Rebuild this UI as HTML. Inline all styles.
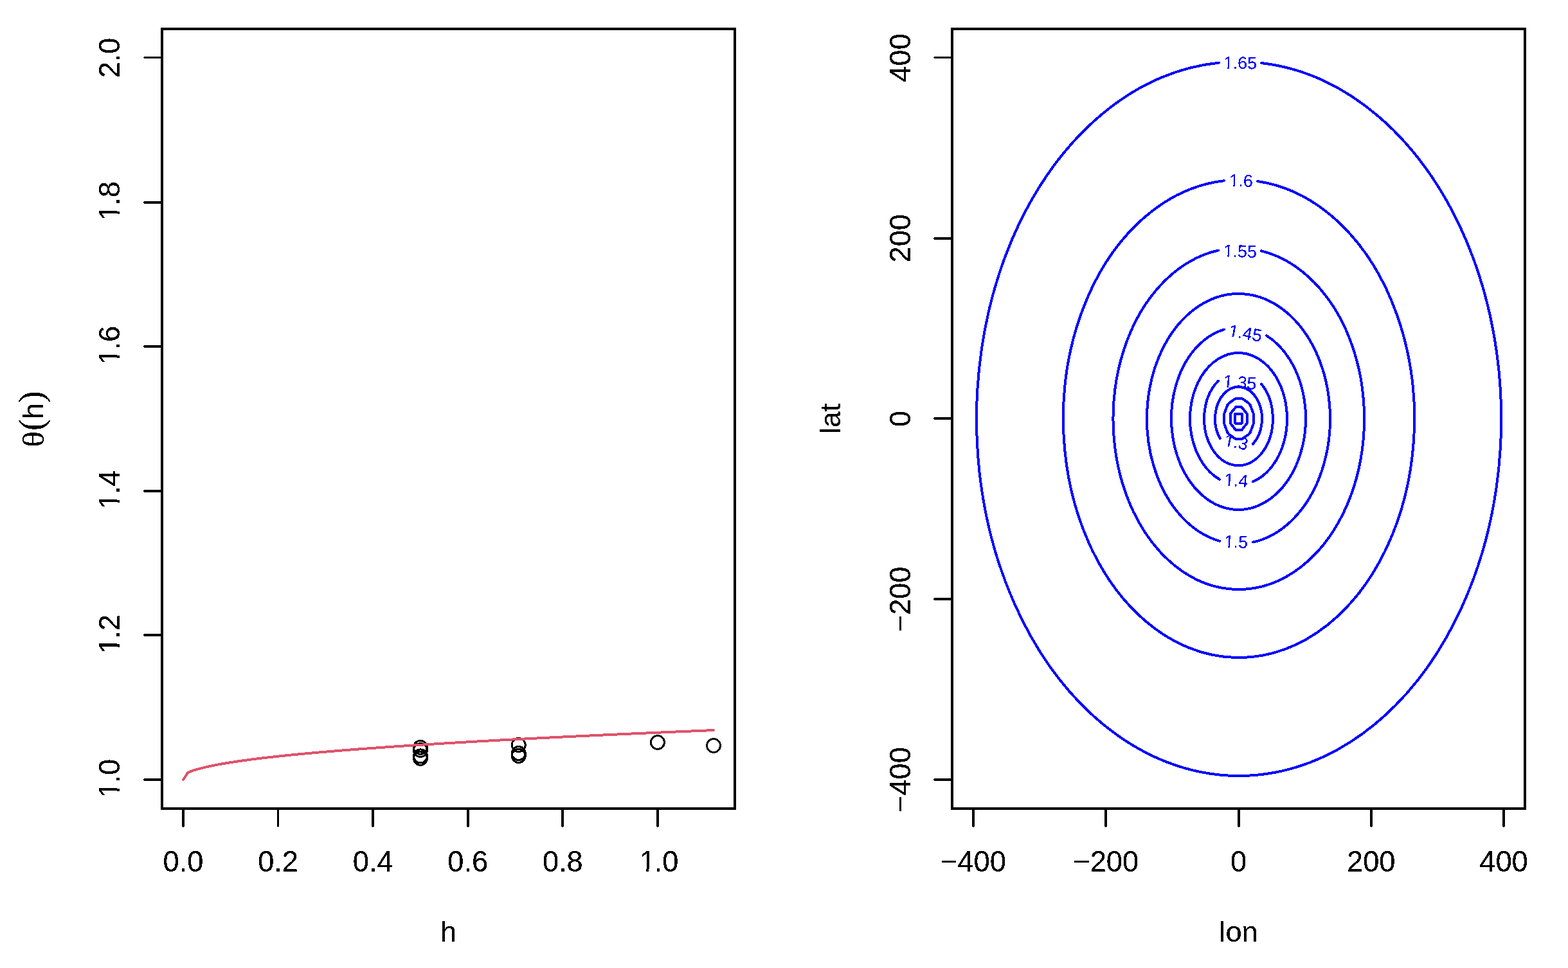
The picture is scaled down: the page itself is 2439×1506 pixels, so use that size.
<!DOCTYPE html>
<html lang="en">
<head>
<meta charset="utf-8">
<title>Extremal coefficient plot</title>
<style>
html,body{margin:0;padding:0;background:#fff;}
body{width:2439px;height:1506px;overflow:hidden;}
svg{display:block;font-family:'Liberation Sans', sans-serif;}
</style>
</head>
<body>
<svg xmlns="http://www.w3.org/2000/svg" width="2439" height="1506" viewBox="0 0 2439 1506">
<defs>
<filter id="crisp" x="0" y="0" width="2439" height="1506" filterUnits="userSpaceOnUse" color-interpolation-filters="sRGB">
<feComponentTransfer><feFuncA type="discrete" tableValues="0 0 1 1 1"/></feComponentTransfer>
</filter>
<clipPath id="k1"><path clip-rule="evenodd" d="M-400 -400h800v800h-800zM-27.22 -3.78H-18.06V1H-27.22zM-14.07 -3.78H-5.37V1H-14.07z"/></clipPath>
<clipPath id="k3"><path clip-rule="evenodd" d="M-400 -400h800v800h-800zM-16.91 -2.42H-11.44V1H-16.91zM-9.05 -2.42H-3.86V1H-9.05z"/></clipPath>
<clipPath id="k4"><path clip-rule="evenodd" d="M-400 -400h800v800h-800zM-24.42 -2.42H-18.95V1H-24.42zM-16.56 -2.42H-11.36V1H-16.56z"/></clipPath>
</defs>
<rect width="2439" height="1506" fill="#fff"/>
<g filter="url(#crisp)">
<g id="axes" fill="#000" shape-rendering="crispEdges">
<rect x="252" y="45" width="891" height="1213" fill="none" stroke="#000" stroke-width="4" shape-rendering="crispEdges"/>
<path d="M283 1260h4v26h-1v1h-2v-1h-1z"/>
<text transform="translate(285,1356) scale(1,1.03)" font-size="45.2" text-anchor="middle">0.0</text>
<path d="M431 1260h3v26h-1v1h-1v-1h-1z"/>
<text transform="translate(432.58,1356) scale(1,1.03)" font-size="45.2" text-anchor="middle">0.2</text>
<path d="M578 1260h4v26h-1v1h-2v-1h-1z"/>
<text transform="translate(580.16,1356) scale(1,1.03)" font-size="45.2" text-anchor="middle">0.4</text>
<path d="M726 1260h4v26h-1v1h-2v-1h-1z"/>
<text transform="translate(727.74,1356) scale(1,1.03)" font-size="45.2" text-anchor="middle">0.6</text>
<path d="M873 1260h4v26h-1v1h-2v-1h-1z"/>
<text transform="translate(875.32,1356) scale(1,1.03)" font-size="45.2" text-anchor="middle">0.8</text>
<path d="M1021 1260h4v26h-1v1h-2v-1h-1z"/>
<text transform="translate(1022.9,1356) scale(1,1.03)" font-size="45.2" text-anchor="middle" clip-path="url(#k1)"><tspan dx="1.99">1</tspan><tspan dx="-1.99">.0</tspan></text>
<path d="M250 1211v4h-26v-1h-1v-2h1v-1z"/>
<text transform="translate(186,1213.07) rotate(-90) scale(1,1.03)" font-size="45.2" text-anchor="middle" clip-path="url(#k1)"><tspan dx="1.99">1</tspan><tspan dx="-1.99">.0</tspan></text>
<path d="M250 986v4h-26v-1h-1v-2h1v-1z"/>
<text transform="translate(186,988.44) rotate(-90) scale(1,1.03)" font-size="45.2" text-anchor="middle" clip-path="url(#k1)"><tspan dx="1.99">1</tspan><tspan dx="-1.99">.2</tspan></text>
<path d="M250 762v4h-26v-1h-1v-2h1v-1z"/>
<text transform="translate(186,763.81) rotate(-90) scale(1,1.03)" font-size="45.2" text-anchor="middle" clip-path="url(#k1)"><tspan dx="1.99">1</tspan><tspan dx="-1.99">.4</tspan></text>
<path d="M250 537v4h-26v-1h-1v-2h1v-1z"/>
<text transform="translate(186,539.19) rotate(-90) scale(1,1.03)" font-size="45.2" text-anchor="middle" clip-path="url(#k1)"><tspan dx="1.99">1</tspan><tspan dx="-1.99">.6</tspan></text>
<path d="M250 313v4h-26v-1h-1v-2h1v-1z"/>
<text transform="translate(186,314.56) rotate(-90) scale(1,1.03)" font-size="45.2" text-anchor="middle" clip-path="url(#k1)"><tspan dx="1.99">1</tspan><tspan dx="-1.99">.8</tspan></text>
<path d="M250 88v3h-26v-1h-1v-1h1v-1z"/>
<text transform="translate(186,89.93) rotate(-90) scale(1,1.03)" font-size="45.2" text-anchor="middle">2.0</text>
<rect x="1481" y="45" width="891" height="1213" fill="none" stroke="#000" stroke-width="4" shape-rendering="crispEdges"/>
<path d="M1512 1260h4v26h-1v1h-2v-1h-1z"/>
<text transform="translate(1514,1356) scale(1,1.03)" font-size="45.2" text-anchor="middle">−400</text>
<path d="M1718 1260h4v26h-1v1h-2v-1h-1z"/>
<text transform="translate(1720.25,1356) scale(1,1.03)" font-size="45.2" text-anchor="middle">−200</text>
<path d="M1925 1260h4v26h-1v1h-2v-1h-1z"/>
<text transform="translate(1926.5,1356) scale(1,1.03)" font-size="45.2" text-anchor="middle">0</text>
<path d="M2131 1260h4v26h-1v1h-2v-1h-1z"/>
<text transform="translate(2132.75,1356) scale(1,1.03)" font-size="45.2" text-anchor="middle">200</text>
<path d="M2337 1260h4v26h-1v1h-2v-1h-1z"/>
<text transform="translate(2339,1356) scale(1,1.03)" font-size="45.2" text-anchor="middle">400</text>
<path d="M1479 1211v4h-26v-1h-1v-2h1v-1z"/>
<text transform="translate(1416,1213.07) rotate(-90) scale(1,1.03)" font-size="45.2" text-anchor="middle">−400</text>
<path d="M1479 930v4h-26v-1h-1v-2h1v-1z"/>
<text transform="translate(1416,932.29) rotate(-90) scale(1,1.03)" font-size="45.2" text-anchor="middle">−200</text>
<path d="M1479 649v4h-26v-1h-1v-2h1v-1z"/>
<text transform="translate(1416,651.5) rotate(-90) scale(1,1.03)" font-size="45.2" text-anchor="middle">0</text>
<path d="M1479 369v4h-26v-1h-1v-2h1v-1z"/>
<text transform="translate(1416,370.71) rotate(-90) scale(1,1.03)" font-size="45.2" text-anchor="middle">200</text>
<path d="M1479 88v3h-26v-1h-1v-1h1v-1z"/>
<text transform="translate(1416,89.93) rotate(-90) scale(1,1.03)" font-size="45.2" text-anchor="middle">400</text>
<text x="697.5" y="1465" font-size="45.2" text-anchor="middle">h</text>
<text x="1926.5" y="1465" font-size="45.2" text-anchor="middle">lon</text>
<text transform="translate(1307,651.5) rotate(-90)" font-size="45.2" text-anchor="middle">lat</text>
<text transform="translate(67,0) rotate(-90)" font-size="45.2"><tspan x="-695.7" y="0.9" font-family="'Liberation Serif', serif" font-size="47" textLength="24.8" lengthAdjust="spacingAndGlyphs">θ</tspan><tspan x="-670.1" y="0" font-family="'Liberation Serif', serif" font-size="54.4">(</tspan><tspan x="-652" y="0">h</tspan><tspan x="-626.4" y="0" font-family="'Liberation Serif', serif" font-size="54.4">)</tspan></text>
</g>
<g id="points" fill="none" stroke="#000" stroke-width="3" shape-rendering="crispEdges">
<circle cx="653.95" cy="1162.8" r="10.5"/>
<circle cx="653.95" cy="1167" r="10.5"/>
<circle cx="653.95" cy="1176.4" r="10.5"/>
<circle cx="653.95" cy="1179.9" r="10.5"/>
<circle cx="806.78" cy="1159" r="10.5"/>
<circle cx="806.78" cy="1172" r="10.5"/>
<circle cx="806.78" cy="1176" r="10.5"/>
<circle cx="1022.9" cy="1155" r="10.5"/>
<circle cx="1109.99" cy="1160" r="10.5"/>
</g>
<polyline shape-rendering="crispEdges" fill="none" stroke="#DF536B" stroke-width="4.0" stroke-linecap="round" stroke-linejoin="round" points="285,1213.07 292.3,1201.87 299.6,1198.99 306.9,1196.8 314.2,1194.89 321.5,1193.15 328.81,1191.56 336.11,1190.09 343.41,1188.73 350.71,1187.45 358.01,1186.25 365.31,1185.12 372.61,1184.04 379.91,1183.01 387.21,1182.03 394.51,1181.08 401.81,1180.17 409.11,1179.29 416.42,1178.44 423.72,1177.62 431.02,1176.82 438.32,1176.04 445.62,1175.28 452.92,1174.55 460.22,1173.83 467.52,1173.12 474.82,1172.43 482.12,1171.76 489.42,1171.1 496.72,1170.46 504.03,1169.82 511.33,1169.2 518.63,1168.59 525.93,1167.99 533.23,1167.41 540.53,1166.83 547.83,1166.26 555.13,1165.69 562.43,1165.14 569.73,1164.6 577.03,1164.06 584.33,1163.53 591.64,1163.01 598.94,1162.49 606.24,1161.99 613.54,1161.48 620.84,1160.99 628.14,1160.5 635.44,1160.01 642.74,1159.54 650.04,1159.06 657.34,1158.6 664.64,1158.13 671.94,1157.68 679.25,1157.23 686.55,1156.78 693.85,1156.34 701.15,1155.9 708.45,1155.46 715.75,1155.03 723.05,1154.61 730.35,1154.18 737.65,1153.77 744.95,1153.35 752.25,1152.94 759.55,1152.54 766.86,1152.13 774.16,1151.73 781.46,1151.34 788.76,1150.94 796.06,1150.55 803.36,1150.16 810.66,1149.78 817.96,1149.4 825.26,1149.02 832.56,1148.65 839.86,1148.27 847.16,1147.91 854.47,1147.54 861.77,1147.17 869.07,1146.81 876.37,1146.45 883.67,1146.1 890.97,1145.74 898.27,1145.39 905.57,1145.04 912.87,1144.7 920.17,1144.35 927.47,1144.01 934.77,1143.67 942.08,1143.33 949.38,1142.99 956.68,1142.66 963.98,1142.33 971.28,1142 978.58,1141.67 985.88,1141.34 993.18,1141.02 1000.48,1140.7 1007.78,1140.38 1015.08,1140.06 1022.38,1139.74 1029.69,1139.43 1036.99,1139.11 1044.29,1138.8 1051.59,1138.49 1058.89,1138.18 1066.19,1137.88 1073.49,1137.57 1080.79,1137.27 1088.09,1136.97 1095.39,1136.67 1102.69,1136.37 1109.99,1136.07"/>
<g id="contours" shape-rendering="crispEdges" fill="none" stroke="#0000FF" stroke-width="4.0" stroke-linecap="round" stroke-linejoin="round">
<path d="M1962 98.04A408.1 555.5 0 1 1 1896 97.62"/>
<path d="M1956 282A273.1 371.6 0 1 1 1903.9 281.23"/>
<path d="M1961.8 390.3A195.3 265.5 0 1 1 1895 389.54"/>
<path d="M1949 843.56A142.5 194.5 0 1 0 1896.9 841.76"/>
<path d="M1970 522.08A104.5 141.9 0 1 1 1903.9 512.56"/>
<path d="M1949 749.34A75.5 102.5 0 1 0 1896.9 745.79"/>
<path d="M1962.2 597.48A53.4 72.8 0 1 1 1895 592.62"/>
<path d="M1949 690.56A36.5 49.6 0 1 0 1897.7 681.97"/>
<path d="M1932.22 620.15L1942.66 627.44L1944.67 630.17L1950.03 644.4L1950.03 658.6L1944.67 672.83L1942.66 675.56L1932.22 682.85L1921.78 682.85L1911.34 675.56L1909.33 672.83L1903.97 658.6L1903.97 644.4L1909.33 630.17L1911.34 627.44L1921.78 620.15Z"/>
<path d="M1922.5 633L1931 633L1940 644.2L1940 658L1931.5 669L1922 669L1913.5 658L1913.5 644.2Z"/>
<path d="M1921.5 644L1931.5 644L1932 644.5L1932 658L1931 659L1922 659L1921 658L1921 644.5Z"/>
</g>
<g id="clabels" fill="#0000FF" font-size="27.0" text-anchor="middle">
<text transform="translate(1928.5,97.5) rotate(0.8) translate(0,9.65)" clip-path="url(#k4)"><tspan dx="0.54">1</tspan><tspan dx="-0.54">.65</tspan></text>
<text transform="translate(1930,280.7) rotate(1.0) translate(0,9.65)" clip-path="url(#k3)"><tspan dx="0.54">1</tspan><tspan dx="-0.54">.6</tspan></text>
<text transform="translate(1928.5,390.4) rotate(1.7) translate(0,9.65)" clip-path="url(#k4)"><tspan dx="0.54">1</tspan><tspan dx="-0.54">.55</tspan></text>
<text transform="translate(1922.2,842.5) rotate(2.3) translate(0,9.65)" clip-path="url(#k3)"><tspan dx="0.54">1</tspan><tspan dx="-0.54">.5</tspan></text>
<text transform="translate(1936.7,517.8) rotate(9.9) translate(0,9.65)" clip-path="url(#k4)"><tspan dx="0.54">1</tspan><tspan dx="-0.54">.45</tspan></text>
<text transform="translate(1922.5,746.8) rotate(4.2) translate(0,9.65)" clip-path="url(#k3)"><tspan dx="0.54">1</tspan><tspan dx="-0.54">.4</tspan></text>
<text transform="translate(1928.1,594.4) rotate(4.4) translate(0,9.65)" clip-path="url(#k4)"><tspan dx="0.54">1</tspan><tspan dx="-0.54">.35</tspan></text>
<text transform="translate(1922.5,687.5) rotate(10.9) translate(0,9.65)" clip-path="url(#k3)"><tspan dx="0.54">1</tspan><tspan dx="-0.54">.3</tspan></text>
</g>
</g>
</svg>
</body>
</html>
